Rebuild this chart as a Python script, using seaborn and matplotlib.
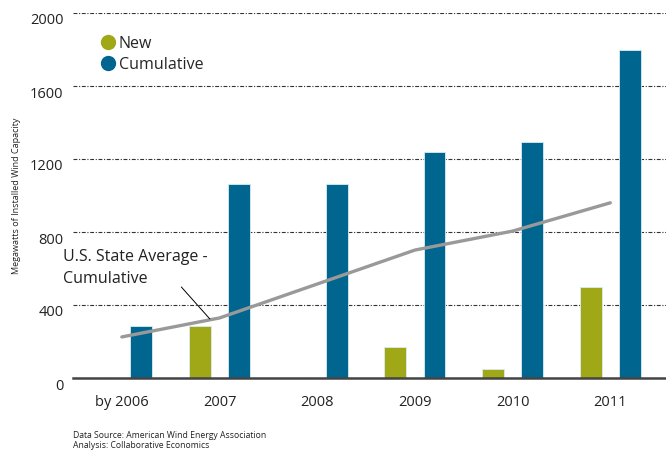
import matplotlib
matplotlib.use("Agg")
import matplotlib.pyplot as plt
import matplotlib.transforms as mtransforms
from matplotlib.lines import Line2D
import numpy as np
import pandas as pd
import seaborn as sns

categories = ['by 2006', '2007', '2008', '2009', '2010', '2011']
new_mw = [np.nan, 285, np.nan, 172, 49, 500]
cumulative_mw = [285, 1063, 1063, 1240, 1293, 1799]
state_avg_cumulative = [225, 329, 515, 701, 805, 960]
y_ticks = [0, 400, 800, 1200, 1600, 2000]

NEW_C = '#a0a818'
CUM_C = '#006690'
LINE_C = '#999999'

sns.set_theme(style='white')
plt.rcParams['font.family'] = ['Open Sans', 'DejaVu Sans']

df = pd.DataFrame({
    'year': categories * 2,
    'series': ['New'] * len(categories) + ['Cumulative'] * len(categories),
    'mw': new_mw + cumulative_mw,
})

fig = plt.figure(figsize=(6.66, 4.5), dpi=100)
ax = fig.add_axes([73 / 666, 1 - 378 / 450, 1 - 73 / 666, (378 - 13) / 450])

sns.barplot(data=df, x='year', y='mw', hue='series', order=categories,
            hue_order=['New', 'Cumulative'], palette=[NEW_C, CUM_C], saturation=1,
            width=0.8, gap=0.44, edgecolor='#d9ecf2', linewidth=0.6,
            ax=ax, legend=False, zorder=3)

sns.lineplot(x=np.arange(len(categories)), y=state_avg_cumulative, ax=ax,
             color=LINE_C, linewidth=2.4, zorder=4)

ax.set_xlim(-0.5, 5.57)
ax.set_ylim(0, 2000)
ax.set_yticks(y_ticks)
ax.set_yticklabels([str(v) for v in y_ticks])
ax.yaxis.grid(True, linestyle=(0, (3.5, 1.5, 1, 1.5)), linewidth=0.8, color='#333333', zorder=0)
ax.xaxis.grid(False)
ax.set_axisbelow(True)
for s in ['top', 'right', 'left']:
    ax.spines[s].set_visible(False)
ax.spines['bottom'].set_color('#444444')
ax.spines['bottom'].set_linewidth(1.8)
ax.spines['bottom'].set_zorder(5)

ax.tick_params(axis='y', length=0, pad=7, labelsize=10.5, labelcolor='#222222')
ax.tick_params(axis='x', length=0, pad=12, labelsize=10.5, labelcolor='#222222')
offset = mtransforms.ScaledTranslation(0, -6 / 100, fig.dpi_scale_trans)
for lab in ax.get_yticklabels():
    lab.set_transform(lab.get_transform() + offset)

ax.set_xlabel('')
ax.set_ylabel('Megawatts of Installed Wind Capacity', fontsize=6.5, color='#222222', labelpad=6)

handles = [Line2D([], [], marker='o', linestyle='', markersize=10, color=NEW_C),
           Line2D([], [], marker='o', linestyle='', markersize=10, color=CUM_C)]
ax.legend(handles, ['New', 'Cumulative'], loc='upper left', bbox_to_anchor=(0.035, 0.955),
          frameon=False, fontsize=11.5, handletextpad=0.15, labelspacing=0.3,
          handlelength=1.0, borderaxespad=0)

ax.annotate('', xy=(0.92, 312), xytext=(0.59, 510),
            arrowprops=dict(arrowstyle='-', color='black', linewidth=0.7),
            annotation_clip=False, zorder=6)
ax.text(-0.6, 705, 'U.S. State Average -\nCumulative', ha='left', va='top',
        fontsize=11.5, color='#222222', linespacing=1.45, clip_on=False, zorder=6)

fig.text(73 / 666, 1 - 436 / 450, 'Data Source: American Wind Energy Association',
         fontsize=6.2, color='#222222', ha='left', va='center')
fig.text(73 / 666, 1 - 445 / 450, 'Analysis: Collaborative Economics',
         fontsize=6.2, color='#222222', ha='left', va='center')

fig.savefig('out.png', dpi=100)
